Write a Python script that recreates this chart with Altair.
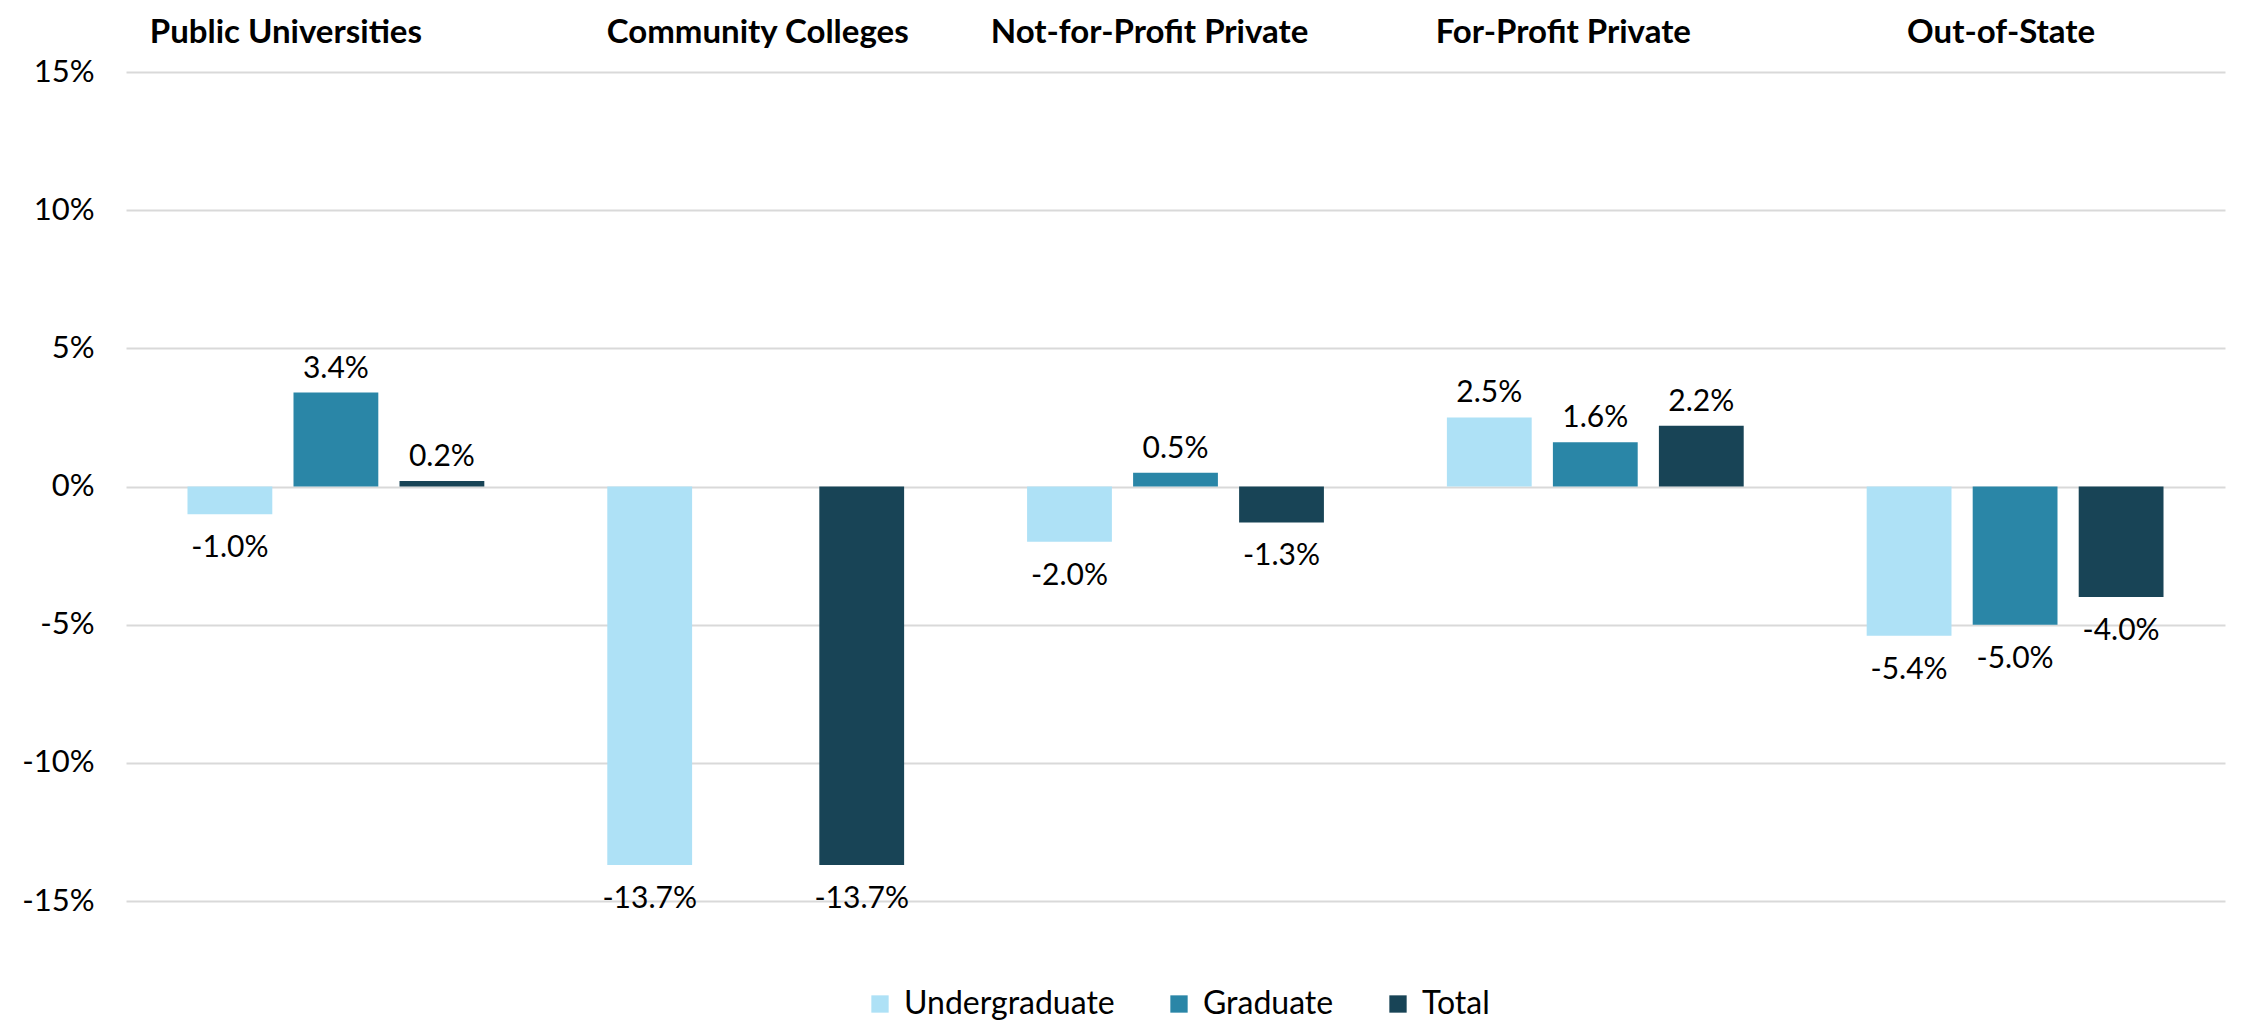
import altair as alt
import pandas as pd

categories = ["Public Universities", "Community Colleges", "Not-for-Profit Private", "For-Profit Private", "Out-of-State"]
series = ["Undergraduate", "Graduate", "Total"]
undergrad = [-1.0, -13.7, -2.0, 2.5, -5.4]
graduate = [3.4, None, 0.5, 1.6, -5.0]
total = [0.2, -13.7, -1.3, 2.2, -4.0]
colors = ["#AEE1F6", "#2A86A7", "#184456"]
y_ticks = [-0.15, -0.10, -0.05, 0.0, 0.05, 0.10, 0.15]

rows = []
for s, vals in zip(series, [undergrad, graduate, total]):
    for c, v in zip(categories, vals):
        if v is not None:
            rows.append({"category": c, "series": s, "value": v / 100.0})
df = pd.DataFrame(rows)

FONT = "Lato"

title_offset = {
    "condition": [
        {"test": "datum.value == 'Public Universities'", "value": -50},
        {"test": "datum.value == 'Not-for-Profit Private'", "value": -26},
        {"test": "datum.value == 'For-Profit Private'", "value": -32},
        {"test": "datum.value == 'Out-of-State'", "value": -14},
    ],
    "value": 2,
}

x_enc = alt.X("category:N", sort=categories,
              scale=alt.Scale(paddingInner=0, paddingOuter=0),
              axis=alt.Axis(orient="top", title=None, labelAngle=0, domain=False, ticks=False,
                            labelFont=FONT, labelFontWeight="bold", labelFontSize=33,
                            labelColor="#000000", labelPadding=23, labelLimit=0,
                            labelOffset=title_offset))
xo_enc = alt.XOffset("series:N", sort=series,
                     scale=alt.Scale(paddingInner=0.2, paddingOuter=0.58))
y_enc = alt.Y("value:Q",
              scale=alt.Scale(domain=[-0.15, 0.15], nice=False, zero=False),
              axis=alt.Axis(title=None, values=y_ticks, format=".0%", domain=False, ticks=False,
                            labelExpr="replace(datum.label, '\u2212', '-')",
                            labelFont=FONT, labelFontSize=31, labelColor="#000000",
                            labelPadding=32, gridColor="#D9D9D9", gridWidth=2))

base = alt.Chart(df).transform_calculate(
    lbl="replace(format(datum.value, '.1%'), '\u2212', '-')"
)

bars = base.mark_bar().encode(
    x=x_enc, xOffset=xo_enc, y=y_enc,
    color=alt.Color("series:N", sort=series,
                    scale=alt.Scale(domain=series, range=colors),
                    legend=alt.Legend(title=None, orient="none", direction="horizontal",
                                      legendX=738, legendY=916,
                                      symbolType="square", symbolSize=300, symbolStrokeWidth=0,
                                      labelFont=FONT, labelFontSize=32, labelColor="#000000",
                                      labelOffset=8, labelLimit=0, columnPadding=48)),
)

pos = base.transform_filter("datum.value >= 0").mark_text(
    baseline="bottom", dy=-9, font=FONT, fontSize=30, color="#000000"
).encode(x=x_enc, xOffset=xo_enc, y="value:Q", text="lbl:N")

neg = base.transform_filter("datum.value < 0").mark_text(
    baseline="top", dy=19, font=FONT, fontSize=30, color="#000000"
).encode(x=x_enc, xOffset=xo_enc, y="value:Q", text="lbl:N")

chart = alt.layer(bars, pos, neg).properties(
    width=2099, height=829,
    autosize=alt.AutoSizeParams(type="none"),
    padding={"left": 118, "top": 64, "right": 10, "bottom": 119},
).configure_view(stroke=None)

chart.save("out.html", embed_options={"renderer": "svg", "actions": False})
